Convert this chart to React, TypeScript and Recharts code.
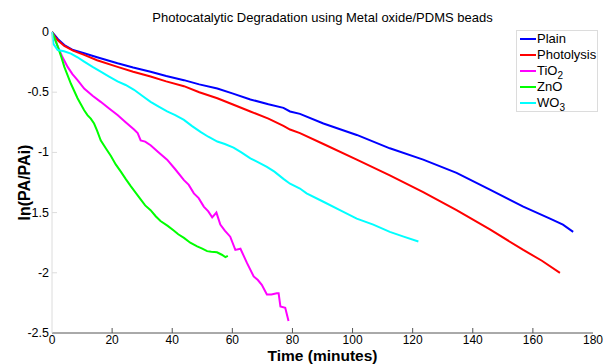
import React from "react";
import { LineChart, Line, XAxis, YAxis, Legend } from "recharts";

document.body.style.margin = "0";

const timeTicks = [0, 20, 40, 60, 80, 100, 120, 140, 160, 180];
const lnTicks = [0, -0.5, -1, -1.5, -2, -2.5];

// Plain
const plainT = [0, 2, 4.1, 7, 10.7, 15, 21.8, 27, 32.8, 38, 43.9, 49, 55, 60, 66, 72, 77, 79.2, 82.5, 90.3, 101.4, 112.4, 123.5, 134.6, 145.7, 156.8, 165.7, 170, 173.4];
const plainV = [0, -0.06, -0.108, -0.15, -0.177, -0.21, -0.26, -0.295, -0.33, -0.365, -0.4, -0.435, -0.47, -0.51, -0.56, -0.6, -0.63, -0.66, -0.68, -0.76, -0.855, -0.966, -1.06, -1.17, -1.31, -1.45, -1.55, -1.6, -1.66];

// Photolysis
const photoT = [0, 1, 2, 4.1, 7, 10.7, 15, 21.8, 27, 32.8, 38, 43.9, 49, 55, 60, 66, 72, 77, 79.2, 82.5, 90.3, 101.4, 112.4, 123.5, 134.6, 145.7, 156.8, 163, 169];
const photoV = [0, -0.04, -0.07, -0.116, -0.155, -0.19, -0.235, -0.29, -0.33, -0.37, -0.41, -0.45, -0.5, -0.55, -0.6, -0.66, -0.72, -0.78, -0.81, -0.84, -0.93, -1.06, -1.19, -1.33, -1.48, -1.64, -1.81, -1.9, -2.0];

// TiO2
const tioT = [0, 1.9, 3.5, 5.2, 6.8, 8.5, 10.7, 13.5, 16.2, 19, 21.8, 24.5, 27.3, 28.5, 29.5, 31, 32.8, 35.5, 38.3, 41, 43.9, 45.5, 47.2, 48.8, 50.5, 52, 53.3, 54.7, 56, 57.5, 59.3, 61, 62.7, 64.9, 67.1, 68.5, 69.8, 71.5, 73, 74.8, 75.4, 76, 77.6, 78.7];
const tioV = [0, -0.12, -0.21, -0.29, -0.35, -0.4, -0.47, -0.53, -0.58, -0.635, -0.69, -0.75, -0.81, -0.84, -0.9, -0.91, -0.94, -1.0, -1.06, -1.14, -1.23, -1.27, -1.34, -1.38, -1.45, -1.49, -1.54, -1.5, -1.6, -1.65, -1.7, -1.81, -1.8, -1.92, -2.03, -2.06, -2.1, -2.18, -2.18, -2.17, -2.17, -2.28, -2.29, -2.4];

// ZnO
const znoT = [0, 1, 1.9, 3, 4.1, 5.2, 6.3, 7.4, 8.5, 9.6, 10.7, 11.8, 12.9, 14, 15, 16.2, 18, 19.6, 21.2, 22.9, 24.5, 26.2, 28, 29.5, 31, 32.8, 34.5, 36.1, 38.5, 40.6, 42, 43.9, 46, 48.3, 50, 51.6, 53, 54.9, 56.5, 57.7, 58.5];
const znoV = [0, -0.06, -0.12, -0.2, -0.29, -0.36, -0.43, -0.49, -0.55, -0.6, -0.65, -0.69, -0.72, -0.76, -0.82, -0.9, -0.97, -1.03, -1.1, -1.16, -1.22, -1.28, -1.34, -1.39, -1.44, -1.48, -1.53, -1.57, -1.61, -1.65, -1.68, -1.71, -1.75, -1.78, -1.8, -1.82, -1.825, -1.83, -1.85, -1.87, -1.86];

// WO3
const wo3T = [0, 0.5, 1.9, 4, 6.3, 8.5, 10.7, 13.5, 16.2, 19, 21.8, 24.5, 27.3, 30, 32.8, 35.5, 38.3, 41, 43.9, 46.5, 49.4, 52, 55, 57.5, 60.4, 63, 66, 68.5, 71.5, 74, 77, 79.2, 82.5, 84.7, 90.3, 95.8, 101.4, 106.9, 112.4, 117, 121.9];
const wo3V = [0, -0.1, -0.15, -0.16, -0.18, -0.21, -0.246, -0.29, -0.33, -0.37, -0.41, -0.44, -0.48, -0.53, -0.58, -0.62, -0.66, -0.69, -0.73, -0.78, -0.83, -0.87, -0.91, -0.93, -0.96, -1.0, -1.05, -1.08, -1.12, -1.16, -1.22, -1.26, -1.3, -1.34, -1.41, -1.48, -1.55, -1.6, -1.66, -1.7, -1.74];

const toPoints = (t: number[], v: number[]) => t.map((x, i) => ({ t: x, v: v[i] }));

const series = [
  { name: "Plain", color: "#0000ff", data: toPoints(plainT, plainV) },
  { name: "Photolysis", color: "#ff0000", data: toPoints(photoT, photoV) },
  { name: "TiO2", color: "#ff00ff", data: toPoints(tioT, tioV) },
  { name: "ZnO", color: "#00ff00", data: toPoints(znoT, znoV) },
  { name: "WO3", color: "#00ffff", data: toPoints(wo3T, wo3V) },
];
const seriesOrder = series.map((s) => s.name);

const DARK = "#555";
const LIGHT = "#dcdcdc";

// digits in a formula go down as a subscript
const withSub = (name: string) =>
  name.split(/(\d+)/).map((part, i) =>
    /^\d+$/.test(part) ? (
      <span key={i} style={{ fontSize: 10, position: "relative", top: 4 }}>{part}</span>
    ) : (
      <span key={i}>{part}</span>
    )
  );

const BottomTick = ({ x, y, payload }: any) => (
  <g>
    {payload.value > 0 && payload.value < 180 && (
      <line x1={x} x2={x} y1={y} y2={y - 5} stroke={DARK} />
    )}
    <text x={x} y={y} dy={10.5} textAnchor="middle" fontSize={12} fill="#000">
      {payload.value}
    </text>
  </g>
);

const TopTick = ({ x, y, payload }: any) =>
  payload.value > 0 && payload.value < 180 ? (
    <line x1={x} x2={x} y1={y} y2={y + 5} stroke={DARK} />
  ) : (
    <g />
  );

const LeftTick = ({ x, y, payload }: any) => (
  <g>
    {payload.value < 0 && payload.value > -2.5 && (
      <line x1={x} x2={x + 5} y1={y} y2={y} stroke={LIGHT} />
    )}
    <text x={x - 3} y={y} dy={4} textAnchor="end" fontSize={12.5} fill="#000">
      {payload.value}
    </text>
  </g>
);

const RightTick = ({ x, y, payload }: any) =>
  payload.value < 0 && payload.value > -2.5 ? (
    <line x1={x} x2={x - 5} y1={y} y2={y} stroke={LIGHT} />
  ) : (
    <g />
  );

const renderLegend = ({ payload }: any) => {
  const items = [...(payload || [])].sort(
    (a: any, b: any) => seriesOrder.indexOf(a.value) - seriesOrder.indexOf(b.value)
  );
  return (
    <div style={{ border: `1px solid ${LIGHT}`, background: "#fff", padding: "0 2px 0 3px", width: 75, fontSize: 13 }}>
      {items.map((e: any) => (
        <div key={e.value} style={{ display: "flex", alignItems: "center", height: 16 }}>
          <span style={{ width: 16, height: 2, background: e.color, marginRight: 1, flexShrink: 0 }} />
          <span style={{ lineHeight: "14px", whiteSpace: "nowrap" }}>{withSub(String(e.value))}</span>
        </div>
      ))}
    </div>
  );
};

export default function App() {
  return (
    <div style={{ position: "relative", width: 605, height: 364, fontFamily: "'Liberation Sans', Arial, sans-serif", background: "#fff" }}>
      <div style={{ position: "absolute", left: 52, width: 541, top: 10, textAlign: "center", fontSize: 13, lineHeight: "15px", color: "#000" }}>
        Photocatalytic Degradation using Metal oxide/PDMS beads
      </div>
      <LineChart width={605} height={364} margin={{ top: 32, right: 12, bottom: 0, left: 0 }}>
        <XAxis
          dataKey="t"
          type="number"
          domain={[0, 180]}
          ticks={timeTicks}
          height={31}
          tickSize={0}
          tickMargin={0}
          tickLine={false}
          axisLine={{ stroke: DARK }}
          tick={BottomTick}
          interval={0}
          label={(p: any) => {
            const vb = p.viewBox || { x: 52, y: 333, width: 541 };
            return (
              <text x={vb.x + vb.width / 2} y={vb.y + 28} textAnchor="middle" fontSize={15.5} fontWeight="bold" fill="#000">
                Time (minutes)
              </text>
            );
          }}
        />
        <XAxis
          xAxisId="top"
          orientation="top"
          dataKey="t"
          type="number"
          domain={[0, 180]}
          ticks={timeTicks}
          height={0}
          tickSize={0}
          tickMargin={0}
          tickLine={false}
          axisLine={{ stroke: DARK }}
          tick={TopTick}
          interval={0}
        />
        <YAxis
          type="number"
          domain={[-2.5, 0]}
          ticks={lnTicks}
          width={52}
          tickSize={0}
          tickMargin={0}
          tickLine={false}
          axisLine={{ stroke: LIGHT }}
          tick={LeftTick}
          interval={0}
          label={(p: any) => {
            const vb = p.viewBox || { x: 0, y: 32, height: 301 };
            const cx = 30;
            const cy = vb.y + vb.height / 2;
            return (
              <text x={cx} y={cy} transform={`rotate(-90 ${cx} ${cy})`} textAnchor="middle" fontSize={16} fontWeight="bold" fill="#000">
                ln(PA/PAi)
              </text>
            );
          }}
        />
        <YAxis
          yAxisId="right"
          orientation="right"
          type="number"
          domain={[-2.5, 0]}
          ticks={lnTicks}
          width={0}
          tickSize={0}
          tickMargin={0}
          tickLine={false}
          axisLine={{ stroke: LIGHT }}
          tick={RightTick}
          interval={0}
        />
        <Legend
          layout="vertical"
          align="center"
          verticalAlign="middle"
          wrapperStyle={{ left: 516, top: 30, width: 82, height: "auto" }}
          content={renderLegend}
        />
        {series.map((s) => (
          <Line
            key={s.name}
            name={s.name}
            data={s.data}
            dataKey="v"
            type="linear"
            stroke={s.color}
            strokeWidth={2}
            dot={false}
            activeDot={false}
            isAnimationActive={false}
          />
        ))}
      </LineChart>
    </div>
  );
}
